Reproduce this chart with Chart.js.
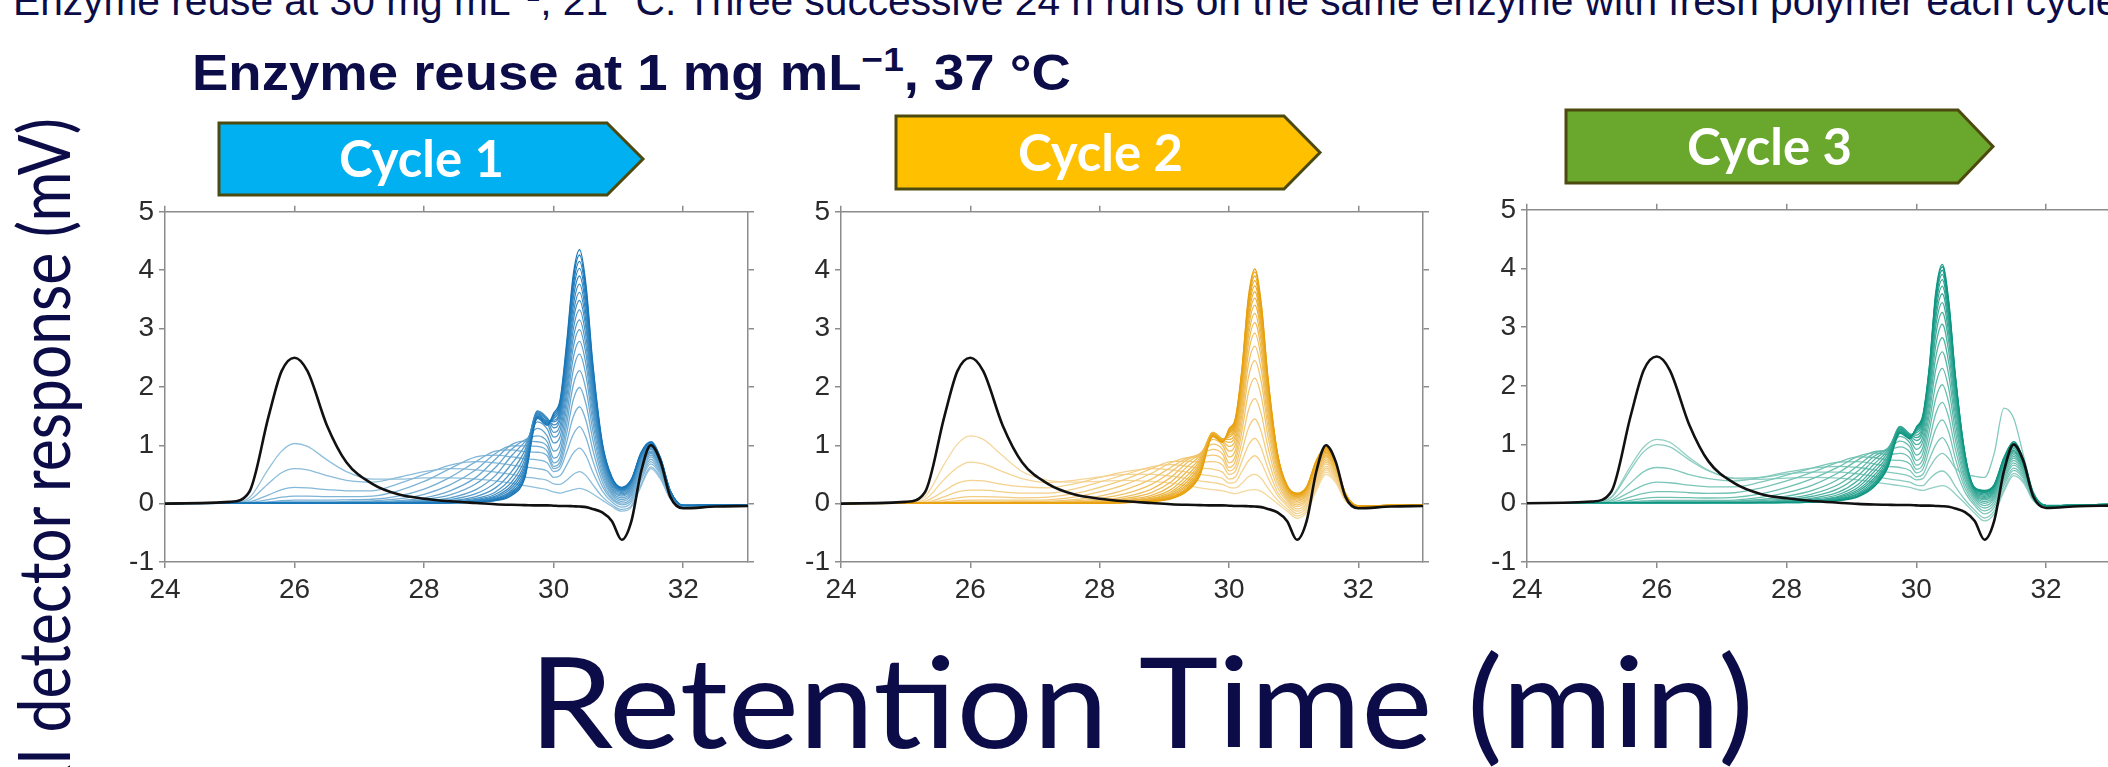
<!DOCTYPE html>
<html>
<head>
<meta charset="utf-8">
<title>Enzyme reuse at 1 mg mL-1, 37 °C</title>
<script src="https://cdn.jsdelivr.net/npm/chart.js@4.4.1/dist/chart.umd.min.js"></script>
<style>
  html, body { margin: 0; padding: 0; width: 2108px; height: 767px; overflow: hidden; background: #fff; }
  #page { position: absolute; left: 0; top: 0; }
  canvas { position: absolute; }
</style>
</head>
<body>
<svg id="page" width="2108" height="767" xmlns="http://www.w3.org/2000/svg">
  <text x="13" y="15" font-family="'Liberation Sans', Arial, sans-serif" font-size="40.7" fill="#0c0c48">Enzyme reuse at 30 mg mL<tspan dy="-14" font-size="26">−1</tspan><tspan dy="14">, 21 °C. Three successive 24 h runs on the same enzyme with fresh polymer each cycle</tspan></text>
  <text x="192" y="90" font-family="'Liberation Sans', Arial, sans-serif" font-weight="bold" font-size="50" fill="#0c0c48" textLength="879" lengthAdjust="spacingAndGlyphs">Enzyme reuse at 1 mg mL<tspan dy="-19" font-size="34">−1</tspan><tspan dy="19">, 37 °C</tspan></text>

  <polygon points="219,123 607,123 643,159 607,195 219,195" fill="#00B0F0" stroke="#4d4a0f" stroke-width="3"/>
  <text x="421.5" y="177" text-anchor="middle" font-family="Lato, sans-serif" font-weight="bold" font-size="51" fill="#fff" textLength="165" lengthAdjust="spacingAndGlyphs">Cycle 1</text>
  <polygon points="896,116 1284,116 1320,152.5 1284,189 896,189" fill="#FFC000" stroke="#4d4a0f" stroke-width="3"/>
  <text x="1100.5" y="170.5" text-anchor="middle" font-family="Lato, sans-serif" font-weight="bold" font-size="51" fill="#fff" textLength="165" lengthAdjust="spacingAndGlyphs">Cycle 2</text>
  <polygon points="1566,110 1958,110 1993,146.5 1958,183 1566,183" fill="#6AA72D" stroke="#4d4a0f" stroke-width="3"/>
  <text x="1769.5" y="164.5" text-anchor="middle" font-family="Lato, sans-serif" font-weight="bold" font-size="51" fill="#fff" textLength="165" lengthAdjust="spacingAndGlyphs">Cycle 3</text>

  <text transform="translate(70 118) rotate(-90)" text-anchor="end" font-family="Lato, sans-serif" font-size="72" fill="#0c0c48" textLength="685" lengthAdjust="spacingAndGlyphs">RI detector response (mV)</text>
  <text x="529" y="748" font-family="Lato, sans-serif" font-size="126" fill="#0c0c48" textLength="1225" lengthAdjust="spacingAndGlyphs">Retention Time (min)</text>
</svg>
<canvas id="cycle1" style="left:95px;top:190px" width="673" height="422"></canvas>
<canvas id="cycle2" style="left:771px;top:190px" width="672" height="422"></canvas>
<canvas id="cycle3" style="left:1457px;top:188px" width="674" height="424"></canvas>
<script>
// retention time grid (min) shared by every trace
const retentionTimes = [24, 25, 25.3, 25.6, 25.8, 26, 26.2, 26.5, 26.8, 27.2, 27.6, 28, 28.4, 28.8, 29.1, 29.35, 29.55, 29.75, 29.9, 30.0, 30.1, 30.2, 30.3, 30.4, 30.5, 30.6, 30.75, 30.9, 31.05, 31.2, 31.35, 31.5, 31.65, 31.8, 32, 32.5, 33]

// starting polymer (black trace), mV
const polymerTrace = [0, 0.03, 0.2, 1.5, 2.27, 2.5, 2.27, 1.34, 0.71, 0.34, 0.16, 0.085, 0.04, 0.01, -0.01, -0.02, -0.025, -0.03, -0.03, -0.035, -0.04, -0.04, -0.045, -0.05, -0.06, -0.09, -0.15, -0.3, -0.62, -0.3, 0.55, 1.0, 0.72, 0.12, -0.08, -0.05, -0.04]

// successive traces, earliest first, mV
const cycle1Traces = [
  [0, 0.01, 0.1, 0.6, 0.9, 1.03, 0.98, 0.75, 0.55, 0.42, 0.42, 0.44, 0.44, 0.42, 0.39, 0.35, 0.31, 0.27, 0.24, 0.2, 0.18, 0.21, 0.24, 0.26, 0.23, 0.17, 0.06, -0.05, -0.13, -0.06, 0.3, 0.6, 0.42, 0.08, -0.05, -0.03, -0.02],
  [0, 0.01, 0.06, 0.35, 0.53, 0.6, 0.58, 0.48, 0.4, 0.37, 0.45, 0.55, 0.6, 0.58, 0.54, 0.5, 0.46, 0.43, 0.4, 0.34, 0.33, 0.4, 0.5, 0.55, 0.48, 0.33, 0.12, -0.02, -0.1, -0.03, 0.33, 0.63, 0.45, 0.09, -0.05, -0.03, -0.02],
  [0, 0.01, 0.03, 0.15, 0.24, 0.28, 0.27, 0.24, 0.22, 0.22, 0.34, 0.5, 0.66, 0.72, 0.7, 0.66, 0.63, 0.6, 0.56, 0.45, 0.48, 0.66, 0.86, 0.95, 0.82, 0.55, 0.22, 0.03, -0.06, 0.02, 0.4, 0.68, 0.49, 0.1, -0.05, -0.03, -0.02],
  [0, 0.01, 0.02, 0.07, 0.11, 0.13, 0.13, 0.12, 0.12, 0.13, 0.22, 0.38, 0.6, 0.8, 0.83, 0.8, 0.77, 0.75, 0.7, 0.55, 0.6, 0.88, 1.18, 1.32, 1.13, 0.75, 0.3, 0.07, -0.02, 0.06, 0.45, 0.72, 0.52, 0.11, -0.05, -0.03, -0.02],
  [0, 0.01, 0.01, 0.03, 0.05, 0.06, 0.06, 0.06, 0.065, 0.075, 0.13, 0.25, 0.45, 0.72, 0.9, 0.92, 0.89, 0.88, 0.82, 0.6, 0.66, 1.05, 1.48, 1.66, 1.42, 0.94, 0.38, 0.1, 0.01, 0.1, 0.5, 0.76, 0.55, 0.12, -0.05, -0.03, -0.02],
  [0, 0.01, 0.01, 0.02, 0.03, 0.03, 0.03, 0.03, 0.035, 0.045, 0.08, 0.16, 0.32, 0.58, 0.86, 0.99, 0.99, 0.98, 0.9, 0.64, 0.72, 1.2, 1.77, 1.99, 1.7, 1.12, 0.46, 0.14, 0.04, 0.14, 0.55, 0.8, 0.58, 0.13, -0.05, -0.03, -0.02],
  [0, 0.01, 0.01, 0.015, 0.02, 0.02, 0.02, 0.02, 0.025, 0.03, 0.05, 0.1, 0.22, 0.45, 0.76, 1.01, 1.07, 1.06, 0.98, 0.7, 0.8, 1.35, 2.02, 2.28, 1.95, 1.28, 0.53, 0.17, 0.07, 0.17, 0.59, 0.83, 0.6, 0.14, -0.05, -0.03, -0.02],
  [0, 0.01, 0.01, 0.01, 0.015, 0.015, 0.015, 0.015, 0.02, 0.02, 0.035, 0.07, 0.15, 0.34, 0.62, 0.93, 1.09, 1.16, 1.06, 0.78, 0.9, 1.5, 2.27, 2.56, 2.19, 1.43, 0.6, 0.2, 0.1, 0.2, 0.62, 0.86, 0.62, 0.15, -0.04, -0.03, -0.02],
  [0, 0.01, 0.01, 0.01, 0.01, 0.015, 0.015, 0.015, 0.015, 0.02, 0.03, 0.05, 0.1, 0.24, 0.48, 0.82, 1.05, 1.29, 1.16, 0.9, 1.02, 1.66, 2.48, 2.78, 2.38, 1.56, 0.66, 0.23, 0.13, 0.23, 0.65, 0.88, 0.64, 0.16, -0.04, -0.03, -0.02],
  [0, 0.01, 0.01, 0.01, 0.01, 0.01, 0.01, 0.01, 0.015, 0.02, 0.02, 0.04, 0.07, 0.17, 0.36, 0.68, 0.98, 1.4, 1.28, 1.04, 1.15, 1.8, 2.66, 2.98, 2.55, 1.67, 0.71, 0.26, 0.15, 0.26, 0.68, 0.9, 0.66, 0.17, -0.04, -0.03, -0.02],
  [0, 0.01, 0.01, 0.01, 0.01, 0.01, 0.01, 0.01, 0.015, 0.015, 0.02, 0.03, 0.05, 0.12, 0.27, 0.55, 0.9, 1.5, 1.38, 1.14, 1.26, 1.92, 2.82, 3.15, 2.7, 1.77, 0.75, 0.29, 0.17, 0.28, 0.71, 0.93, 0.68, 0.18, -0.04, -0.03, -0.02],
  [0, 0.01, 0.01, 0.01, 0.01, 0.01, 0.01, 0.01, 0.015, 0.015, 0.02, 0.03, 0.04, 0.09, 0.2, 0.45, 0.82, 1.56, 1.44, 1.22, 1.35, 2.04, 2.97, 3.32, 2.85, 1.86, 0.8, 0.31, 0.19, 0.31, 0.74, 0.95, 0.7, 0.19, -0.03, -0.02, -0.02],
  [0, 0.01, 0.01, 0.01, 0.01, 0.01, 0.01, 0.01, 0.01, 0.01, 0.015, 0.02, 0.035, 0.07, 0.16, 0.37, 0.75, 1.59, 1.47, 1.3, 1.44, 2.15, 3.12, 3.48, 2.99, 1.95, 0.84, 0.34, 0.21, 0.33, 0.77, 0.97, 0.72, 0.2, -0.03, -0.02, -0.02],
  [0, 0.01, 0.01, 0.01, 0.01, 0.01, 0.01, 0.01, 0.01, 0.01, 0.015, 0.02, 0.03, 0.06, 0.13, 0.31, 0.68, 1.58, 1.46, 1.35, 1.5, 2.25, 3.24, 3.62, 3.11, 2.03, 0.87, 0.36, 0.22, 0.35, 0.79, 0.99, 0.73, 0.2, -0.03, -0.02, -0.02],
  [0, 0.01, 0.01, 0.01, 0.01, 0.01, 0.01, 0.01, 0.01, 0.01, 0.01, 0.02, 0.025, 0.05, 0.11, 0.27, 0.62, 1.56, 1.44, 1.4, 1.56, 2.34, 3.37, 3.76, 3.23, 2.11, 0.9, 0.38, 0.23, 0.37, 0.81, 1.0, 0.74, 0.21, -0.03, -0.02, -0.02],
  [0, 0.01, 0.01, 0.01, 0.01, 0.01, 0.01, 0.01, 0.01, 0.01, 0.01, 0.015, 0.02, 0.04, 0.09, 0.23, 0.57, 1.54, 1.42, 1.43, 1.6, 2.43, 3.5, 3.9, 3.35, 2.19, 0.94, 0.4, 0.24, 0.38, 0.83, 1.01, 0.75, 0.21, -0.03, -0.02, -0.02],
  [0, 0.01, 0.01, 0.01, 0.01, 0.01, 0.01, 0.01, 0.01, 0.01, 0.01, 0.015, 0.02, 0.035, 0.08, 0.2, 0.52, 1.52, 1.4, 1.46, 1.65, 2.52, 3.62, 4.03, 3.46, 2.27, 0.97, 0.41, 0.25, 0.39, 0.85, 1.02, 0.76, 0.21, -0.03, -0.02, -0.02],
  [0, 0.01, 0.01, 0.01, 0.01, 0.01, 0.01, 0.01, 0.01, 0.01, 0.01, 0.01, 0.015, 0.03, 0.07, 0.18, 0.48, 1.5, 1.38, 1.49, 1.7, 2.6, 3.72, 4.15, 3.57, 2.34, 1.0, 0.43, 0.26, 0.4, 0.86, 1.03, 0.77, 0.22, -0.03, -0.02, -0.02],
  [0, 0.01, 0.01, 0.01, 0.01, 0.01, 0.01, 0.01, 0.01, 0.01, 0.01, 0.01, 0.015, 0.03, 0.06, 0.16, 0.45, 1.48, 1.36, 1.52, 1.74, 2.68, 3.82, 4.26, 3.66, 2.4, 1.02, 0.44, 0.27, 0.41, 0.87, 1.05, 0.78, 0.22, -0.03, -0.02, -0.02],
  [0, 0.01, 0.01, 0.01, 0.01, 0.01, 0.01, 0.01, 0.01, 0.01, 0.01, 0.01, 0.01, 0.025, 0.05, 0.14, 0.42, 1.46, 1.34, 1.55, 1.78, 2.75, 3.9, 4.35, 3.74, 2.45, 1.05, 0.45, 0.28, 0.42, 0.88, 1.06, 0.78, 0.22, -0.03, -0.02, -0.02]
]

const cycle2Traces = [
  [0, 0.01, 0.12, 0.68, 1.02, 1.16, 1.1, 0.82, 0.55, 0.4, 0.37, 0.38, 0.4, 0.38, 0.35, 0.31, 0.27, 0.24, 0.22, 0.19, 0.17, 0.2, 0.23, 0.24, 0.21, 0.13, 0.0, -0.13, -0.25, -0.15, 0.22, 0.5, 0.36, 0.05, -0.06, -0.04, -0.03],
  [0, 0.01, 0.07, 0.42, 0.62, 0.71, 0.68, 0.55, 0.43, 0.36, 0.4, 0.46, 0.5, 0.5, 0.47, 0.43, 0.39, 0.36, 0.33, 0.28, 0.27, 0.35, 0.46, 0.5, 0.43, 0.27, 0.06, -0.09, -0.21, -0.11, 0.26, 0.54, 0.39, 0.06, -0.06, -0.04, -0.03],
  [0, 0.01, 0.04, 0.22, 0.35, 0.4, 0.39, 0.33, 0.29, 0.27, 0.34, 0.45, 0.55, 0.6, 0.58, 0.54, 0.5, 0.47, 0.43, 0.35, 0.37, 0.55, 0.73, 0.82, 0.7, 0.45, 0.14, -0.04, -0.17, -0.07, 0.3, 0.58, 0.42, 0.07, -0.06, -0.04, -0.03],
  [0, 0.01, 0.02, 0.12, 0.2, 0.23, 0.23, 0.2, 0.18, 0.18, 0.25, 0.37, 0.5, 0.63, 0.67, 0.64, 0.61, 0.59, 0.54, 0.42, 0.46, 0.73, 1.0, 1.12, 0.95, 0.61, 0.2, 0.0, -0.13, -0.03, 0.34, 0.61, 0.45, 0.08, -0.06, -0.04, -0.03],
  [0, 0.01, 0.015, 0.06, 0.1, 0.12, 0.12, 0.11, 0.1, 0.11, 0.17, 0.28, 0.42, 0.6, 0.72, 0.73, 0.71, 0.72, 0.66, 0.5, 0.56, 0.9, 1.29, 1.45, 1.23, 0.79, 0.28, 0.04, -0.09, 0.01, 0.38, 0.64, 0.48, 0.09, -0.05, -0.04, -0.03],
  [0, 0.01, 0.01, 0.03, 0.05, 0.06, 0.06, 0.06, 0.06, 0.065, 0.11, 0.2, 0.33, 0.52, 0.7, 0.79, 0.8, 0.83, 0.76, 0.56, 0.64, 1.07, 1.6, 1.8, 1.53, 0.98, 0.36, 0.07, -0.05, 0.05, 0.42, 0.68, 0.5, 0.1, -0.05, -0.04, -0.03],
  [0, 0.01, 0.01, 0.02, 0.025, 0.03, 0.03, 0.03, 0.035, 0.04, 0.07, 0.13, 0.24, 0.42, 0.62, 0.78, 0.84, 0.93, 0.85, 0.62, 0.73, 1.24, 1.9, 2.15, 1.83, 1.17, 0.43, 0.1, -0.02, 0.08, 0.46, 0.71, 0.53, 0.11, -0.05, -0.03, -0.03],
  [0, 0.01, 0.01, 0.015, 0.02, 0.02, 0.02, 0.02, 0.02, 0.025, 0.045, 0.09, 0.17, 0.33, 0.54, 0.75, 0.86, 1.02, 0.93, 0.7, 0.82, 1.39, 2.16, 2.45, 2.08, 1.33, 0.5, 0.13, 0.01, 0.11, 0.5, 0.74, 0.55, 0.12, -0.05, -0.03, -0.03],
  [0, 0.01, 0.01, 0.01, 0.015, 0.015, 0.015, 0.015, 0.015, 0.02, 0.03, 0.06, 0.12, 0.25, 0.45, 0.7, 0.85, 1.1, 1.0, 0.8, 0.92, 1.52, 2.38, 2.7, 2.29, 1.46, 0.56, 0.16, 0.04, 0.14, 0.53, 0.77, 0.57, 0.13, -0.04, -0.03, -0.03],
  [0, 0.01, 0.01, 0.01, 0.01, 0.01, 0.01, 0.01, 0.015, 0.015, 0.025, 0.045, 0.09, 0.19, 0.37, 0.63, 0.82, 1.16, 1.05, 0.9, 1.02, 1.64, 2.57, 2.92, 2.48, 1.58, 0.61, 0.18, 0.06, 0.16, 0.56, 0.8, 0.59, 0.14, -0.04, -0.03, -0.02],
  [0, 0.01, 0.01, 0.01, 0.01, 0.01, 0.01, 0.01, 0.015, 0.015, 0.02, 0.035, 0.07, 0.14, 0.3, 0.55, 0.78, 1.2, 1.08, 0.98, 1.1, 1.75, 2.73, 3.1, 2.63, 1.68, 0.65, 0.2, 0.08, 0.18, 0.59, 0.82, 0.61, 0.14, -0.04, -0.03, -0.02],
  [0, 0.01, 0.01, 0.01, 0.01, 0.01, 0.01, 0.01, 0.01, 0.01, 0.02, 0.03, 0.055, 0.11, 0.24, 0.48, 0.74, 1.22, 1.1, 1.05, 1.17, 1.85, 2.87, 3.26, 2.77, 1.77, 0.69, 0.22, 0.1, 0.2, 0.62, 0.84, 0.62, 0.15, -0.04, -0.03, -0.02],
  [0, 0.01, 0.01, 0.01, 0.01, 0.01, 0.01, 0.01, 0.01, 0.01, 0.015, 0.025, 0.045, 0.09, 0.2, 0.42, 0.7, 1.22, 1.11, 1.1, 1.23, 1.93, 2.99, 3.4, 2.89, 1.85, 0.72, 0.24, 0.11, 0.22, 0.64, 0.86, 0.64, 0.15, -0.04, -0.03, -0.02],
  [0, 0.01, 0.01, 0.01, 0.01, 0.01, 0.01, 0.01, 0.01, 0.01, 0.015, 0.02, 0.04, 0.08, 0.17, 0.37, 0.66, 1.21, 1.11, 1.14, 1.28, 2.0, 3.1, 3.52, 2.99, 1.91, 0.75, 0.25, 0.12, 0.23, 0.66, 0.88, 0.65, 0.16, -0.04, -0.03, -0.02],
  [0, 0.01, 0.01, 0.01, 0.01, 0.01, 0.01, 0.01, 0.01, 0.01, 0.01, 0.02, 0.035, 0.07, 0.15, 0.33, 0.62, 1.2, 1.1, 1.17, 1.32, 2.07, 3.19, 3.63, 3.08, 1.97, 0.77, 0.26, 0.13, 0.24, 0.68, 0.9, 0.66, 0.16, -0.04, -0.03, -0.02],
  [0, 0.01, 0.01, 0.01, 0.01, 0.01, 0.01, 0.01, 0.01, 0.01, 0.01, 0.015, 0.03, 0.06, 0.13, 0.3, 0.58, 1.19, 1.09, 1.2, 1.36, 2.13, 3.28, 3.73, 3.17, 2.03, 0.8, 0.27, 0.14, 0.25, 0.7, 0.92, 0.67, 0.16, -0.04, -0.03, -0.02],
  [0, 0.01, 0.01, 0.01, 0.01, 0.01, 0.01, 0.01, 0.01, 0.01, 0.01, 0.015, 0.025, 0.05, 0.11, 0.27, 0.55, 1.18, 1.08, 1.22, 1.39, 2.19, 3.36, 3.82, 3.25, 2.08, 0.82, 0.28, 0.15, 0.26, 0.71, 0.93, 0.68, 0.17, -0.04, -0.03, -0.02],
  [0, 0.01, 0.01, 0.01, 0.01, 0.01, 0.01, 0.01, 0.01, 0.01, 0.01, 0.01, 0.02, 0.045, 0.1, 0.25, 0.52, 1.17, 1.07, 1.24, 1.42, 2.24, 3.43, 3.9, 3.32, 2.12, 0.84, 0.29, 0.16, 0.27, 0.72, 0.95, 0.69, 0.17, -0.04, -0.03, -0.02],
  [0, 0.01, 0.01, 0.01, 0.01, 0.01, 0.01, 0.01, 0.01, 0.01, 0.01, 0.01, 0.02, 0.04, 0.09, 0.23, 0.5, 1.16, 1.06, 1.26, 1.45, 2.28, 3.49, 3.97, 3.38, 2.16, 0.85, 0.3, 0.17, 0.28, 0.73, 0.96, 0.7, 0.17, -0.04, -0.03, -0.02],
  [0, 0.01, 0.01, 0.01, 0.01, 0.01, 0.01, 0.01, 0.01, 0.01, 0.01, 0.01, 0.015, 0.035, 0.08, 0.21, 0.48, 1.15, 1.05, 1.28, 1.47, 2.31, 3.54, 4.02, 3.42, 2.19, 0.86, 0.31, 0.18, 0.29, 0.74, 0.97, 0.71, 0.18, -0.04, -0.03, -0.02]
]

const cycle3Traces = [
  [0, 0.01, 0.11, 0.64, 0.96, 1.09, 1.04, 0.78, 0.56, 0.42, 0.41, 0.43, 0.44, 0.43, 0.4, 0.36, 0.33, 0.3, 0.27, 0.24, 0.22, 0.25, 0.28, 0.3, 0.26, 0.16, 0.0, -0.17, -0.3, -0.18, 0.2, 0.47, 0.35, 0.05, -0.07, -0.04, -0.03],
  [0, 0.01, 0.1, 0.58, 0.88, 1.0, 0.96, 0.74, 0.55, 0.43, 0.44, 0.5, 0.53, 0.53, 0.5, 0.46, 0.42, 0.39, 0.36, 0.31, 0.3, 0.41, 0.51, 0.55, 0.47, 0.29, 0.06, -0.12, -0.25, -0.13, 0.24, 0.51, 0.38, 0.06, -0.07, -0.04, -0.03],
  [0, 0.01, 0.06, 0.35, 0.54, 0.61, 0.59, 0.49, 0.42, 0.38, 0.44, 0.53, 0.6, 0.63, 0.61, 0.57, 0.53, 0.5, 0.46, 0.4, 0.42, 0.6, 0.77, 0.85, 0.76, 0.6, 0.5, 0.46, 0.44, 0.85, 1.62, 1.45, 0.82, 0.2, -0.03, -0.03, -0.03],
  [0, 0.01, 0.04, 0.2, 0.31, 0.36, 0.35, 0.31, 0.28, 0.28, 0.36, 0.48, 0.6, 0.7, 0.71, 0.67, 0.63, 0.61, 0.56, 0.45, 0.49, 0.75, 1.0, 1.12, 0.95, 0.6, 0.19, -0.04, -0.18, -0.07, 0.3, 0.56, 0.42, 0.07, -0.06, -0.04, -0.03],
  [0, 0.01, 0.02, 0.11, 0.17, 0.2, 0.2, 0.18, 0.17, 0.18, 0.26, 0.38, 0.53, 0.7, 0.79, 0.78, 0.74, 0.73, 0.67, 0.52, 0.58, 0.92, 1.27, 1.42, 1.21, 0.77, 0.26, 0.0, -0.13, -0.02, 0.35, 0.6, 0.45, 0.08, -0.06, -0.04, -0.03],
  [0, 0.01, 0.01, 0.05, 0.085, 0.1, 0.1, 0.095, 0.09, 0.1, 0.16, 0.27, 0.42, 0.62, 0.8, 0.86, 0.83, 0.85, 0.77, 0.58, 0.66, 1.07, 1.53, 1.72, 1.46, 0.93, 0.33, 0.04, -0.08, 0.03, 0.4, 0.65, 0.48, 0.09, -0.06, -0.04, -0.03],
  [0, 0.01, 0.01, 0.025, 0.04, 0.05, 0.05, 0.05, 0.05, 0.055, 0.1, 0.18, 0.31, 0.52, 0.74, 0.88, 0.9, 0.96, 0.87, 0.65, 0.75, 1.23, 1.79, 2.02, 1.71, 1.09, 0.4, 0.08, -0.04, 0.07, 0.44, 0.69, 0.51, 0.1, -0.05, -0.04, -0.03],
  [0, 0.01, 0.01, 0.015, 0.025, 0.03, 0.03, 0.03, 0.03, 0.035, 0.065, 0.12, 0.22, 0.41, 0.64, 0.85, 0.92, 1.06, 0.96, 0.73, 0.85, 1.38, 2.03, 2.3, 1.95, 1.24, 0.46, 0.11, 0.0, 0.1, 0.48, 0.73, 0.54, 0.11, -0.05, -0.03, -0.03],
  [0, 0.01, 0.01, 0.01, 0.015, 0.02, 0.02, 0.02, 0.02, 0.025, 0.045, 0.08, 0.16, 0.32, 0.55, 0.8, 0.93, 1.14, 1.03, 0.82, 0.95, 1.52, 2.28, 2.58, 2.18, 1.39, 0.52, 0.13, 0.03, 0.13, 0.52, 0.77, 0.57, 0.12, -0.05, -0.03, -0.03],
  [0, 0.01, 0.01, 0.01, 0.01, 0.015, 0.015, 0.015, 0.015, 0.02, 0.03, 0.06, 0.12, 0.25, 0.47, 0.74, 0.92, 1.21, 1.09, 0.92, 1.05, 1.64, 2.49, 2.82, 2.39, 1.52, 0.57, 0.15, 0.06, 0.16, 0.56, 0.8, 0.59, 0.13, -0.04, -0.03, -0.02],
  [0, 0.01, 0.01, 0.01, 0.01, 0.01, 0.01, 0.01, 0.015, 0.015, 0.025, 0.045, 0.09, 0.19, 0.39, 0.67, 0.89, 1.26, 1.13, 1.0, 1.13, 1.76, 2.69, 3.05, 2.58, 1.64, 0.62, 0.17, 0.08, 0.18, 0.6, 0.83, 0.61, 0.14, -0.04, -0.03, -0.02],
  [0, 0.01, 0.01, 0.01, 0.01, 0.01, 0.01, 0.01, 0.015, 0.015, 0.02, 0.035, 0.07, 0.15, 0.32, 0.6, 0.85, 1.29, 1.16, 1.07, 1.21, 1.87, 2.87, 3.25, 2.75, 1.75, 0.66, 0.19, 0.1, 0.2, 0.63, 0.86, 0.63, 0.14, -0.04, -0.03, -0.02],
  [0, 0.01, 0.01, 0.01, 0.01, 0.01, 0.01, 0.01, 0.01, 0.01, 0.02, 0.03, 0.055, 0.12, 0.27, 0.54, 0.8, 1.31, 1.18, 1.12, 1.27, 1.96, 3.02, 3.42, 2.89, 1.84, 0.7, 0.2, 0.12, 0.22, 0.66, 0.88, 0.65, 0.15, -0.04, -0.03, -0.02],
  [0, 0.01, 0.01, 0.01, 0.01, 0.01, 0.01, 0.01, 0.01, 0.01, 0.015, 0.025, 0.045, 0.1, 0.23, 0.48, 0.76, 1.3, 1.18, 1.16, 1.32, 2.04, 3.15, 3.57, 3.02, 1.92, 0.73, 0.21, 0.14, 0.24, 0.68, 0.9, 0.66, 0.15, -0.04, -0.03, -0.02],
  [0, 0.01, 0.01, 0.01, 0.01, 0.01, 0.01, 0.01, 0.01, 0.01, 0.015, 0.02, 0.04, 0.085, 0.2, 0.43, 0.72, 1.29, 1.17, 1.2, 1.36, 2.11, 3.26, 3.7, 3.12, 1.99, 0.76, 0.22, 0.16, 0.26, 0.7, 0.93, 0.68, 0.16, -0.04, -0.03, -0.02],
  [0, 0.01, 0.01, 0.01, 0.01, 0.01, 0.01, 0.01, 0.01, 0.01, 0.01, 0.02, 0.035, 0.075, 0.17, 0.39, 0.68, 1.27, 1.16, 1.23, 1.4, 2.17, 3.36, 3.81, 3.21, 2.05, 0.78, 0.23, 0.18, 0.28, 0.72, 0.96, 0.7, 0.16, -0.04, -0.03, -0.02],
  [0, 0.01, 0.01, 0.01, 0.01, 0.01, 0.01, 0.01, 0.01, 0.01, 0.01, 0.015, 0.03, 0.065, 0.15, 0.35, 0.65, 1.25, 1.15, 1.25, 1.43, 2.22, 3.44, 3.9, 3.29, 2.1, 0.8, 0.24, 0.19, 0.29, 0.74, 0.99, 0.72, 0.17, -0.04, -0.03, -0.02],
  [0, 0.01, 0.01, 0.01, 0.01, 0.01, 0.01, 0.01, 0.01, 0.01, 0.01, 0.015, 0.025, 0.055, 0.13, 0.32, 0.62, 1.23, 1.14, 1.27, 1.46, 2.26, 3.5, 3.97, 3.35, 2.14, 0.82, 0.25, 0.2, 0.3, 0.76, 1.01, 0.73, 0.17, -0.04, -0.03, -0.02],
  [0, 0.01, 0.01, 0.01, 0.01, 0.01, 0.01, 0.01, 0.01, 0.01, 0.01, 0.01, 0.02, 0.05, 0.12, 0.3, 0.6, 1.21, 1.12, 1.28, 1.48, 2.3, 3.55, 4.03, 3.4, 2.17, 0.83, 0.26, 0.21, 0.31, 0.77, 1.03, 0.74, 0.18, -0.04, -0.03, -0.02],
  [0, 0.01, 0.01, 0.01, 0.01, 0.01, 0.01, 0.01, 0.01, 0.01, 0.01, 0.01, 0.02, 0.045, 0.11, 0.28, 0.58, 1.19, 1.1, 1.3, 1.5, 2.33, 3.6, 4.07, 3.44, 2.2, 0.84, 0.27, 0.22, 0.32, 0.78, 1.05, 0.75, 0.18, -0.04, -0.03, -0.02]
]

const axisGrey = '#8c8c8c'
const tickFont = { family: "'Liberation Sans Narrow', 'Arial Narrow', 'Liberation Sans', sans-serif", size: 28 }

function traceData (values) {
  return retentionTimes.map((t, i) => ({ x: t, y: values[i] }))
}

// blend from the faint early colour to the strong late colour
function traceColour (light, dark, f) {
  const c = light.map((v, i) => Math.round(v + (dark[i] - v) * f))
  return `rgb(${c[0]}, ${c[1]}, ${c[2]})`
}

function frameAxis (position, min, max, step, size, showLabels) {
  return {
    type: 'linear',
    position: position,
    min: min,
    max: max,
    ticks: {
      stepSize: step,
      includeBounds: false,
      autoSkip: false,
      maxRotation: 0,
      display: showLabels,
      font: tickFont,
      color: '#2b2b2b',
      padding: 5
    },
    grid: { drawOnChartArea: false, drawTicks: true, tickLength: 6, color: axisGrey, lineWidth: 1.5 },
    border: { display: true, color: axisGrey, width: 1.5 },
    afterFit: scale => {
      if (scale.isHorizontal()) scale.height = size
      else scale.width = size
    }
  }
}

function drawCycle (canvasId, traces, light, dark) {
  const datasets = traces.map((values, k) => ({
    data: traceData(values),
    borderColor: traceColour(light, dark, k / (traces.length - 1)),
    borderWidth: 1.3,
    xAxisID: 'x',
    yAxisID: 'y',
    order: traces.length - k
  }))

  // the untreated polymer goes on top
  datasets.push({
    data: traceData(polymerTrace),
    borderColor: '#111111',
    borderWidth: 2.6,
    xAxisID: 'x',
    yAxisID: 'y',
    order: 0
  })

  return new Chart(document.getElementById(canvasId), {
    type: 'line',
    data: { datasets: datasets },
    options: {
      responsive: false,
      animation: false,
      devicePixelRatio: 1,
      layout: { padding: 0 },
      elements: {
        point: { radius: 0 },
        line: { cubicInterpolationMode: 'monotone', fill: false }
      },
      plugins: {
        legend: { display: false },
        tooltip: { enabled: false }
      },
      scales: {
        x: frameAxis('bottom', 24, 33, 2, 50, true),
        x2: frameAxis('top', 24, 33, 2, 20, false),
        y: frameAxis('left', -1, 5, 1, 70, true),
        y2: frameAxis('right', -1, 5, 1, 20, false)
      }
    }
  })
}

drawCycle('cycle1', cycle1Traces, [145, 192, 220], [24, 118, 184])
drawCycle('cycle2', cycle2Traces, [245, 216, 158], [232, 160, 12])
drawCycle('cycle3', cycle3Traces, [145, 207, 195], [14, 150, 130])
</script>
</body>
</html>
